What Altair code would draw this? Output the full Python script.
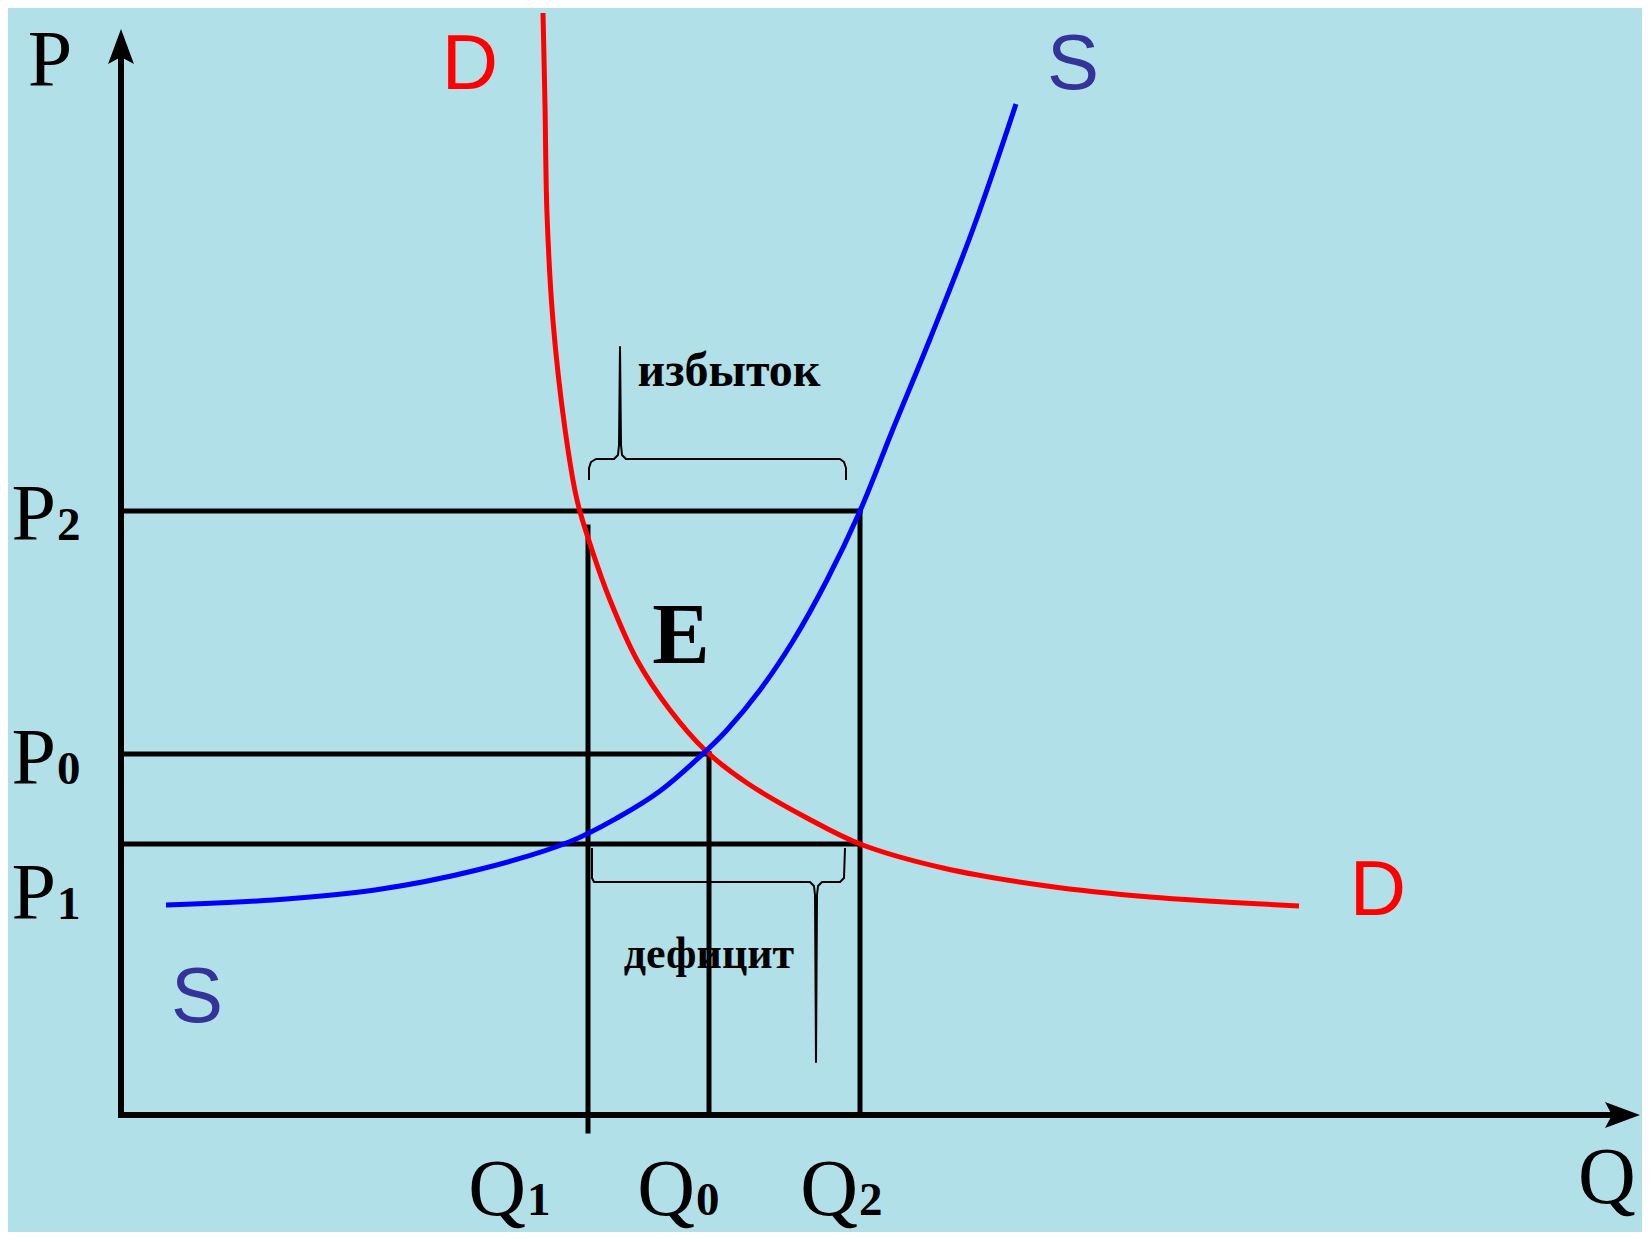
import altair as alt
import pandas as pd

# ---- economic levels (data units) ----
Q1, Q0, Q2 = 4.67, 5.88, 7.39
P2, P0, P1 = 6.04, 3.61, 2.71

# ---- demand curve D ----
demand_q = [4.22, 4.24, 4.26, 4.32, 4.44, 4.56, 4.71, 4.89, 5.16, 5.49, 5.85, 6.26, 6.86, 7.39, 8.22, 9.26, 10.29, 11.78]
demand_p = [11.02, 10.10, 9.01, 7.94, 6.86, 6.15, 5.65, 5.15, 4.55, 4.05, 3.64, 3.32, 2.97, 2.71, 2.47, 2.29, 2.18, 2.09]

# ---- supply curve S ----
supply_q = [0.45, 1.52, 2.54, 3.56, 4.48, 4.96, 5.39, 5.85, 6.06, 6.39, 6.72, 7.06, 7.39, 7.72, 8.09, 8.52, 8.95]
supply_p = [2.10, 2.15, 2.25, 2.45, 2.73, 2.97, 3.24, 3.64, 3.85, 4.25, 4.74, 5.35, 6.04, 6.86, 7.76, 8.86, 10.11]

# ---- guide segments ----
seg_x = [0, 0, 0, Q1, Q0, Q2]
seg_x2 = [Q2, Q0, Q2, Q1, Q0, Q2]
seg_y = [P2, P0, P1, -0.16, 0, 0]
seg_y2 = [P2, P0, P1, 5.88, P0, P2]

# ---- axes ----
axis_x = [0, 0]
axis_x2 = [15.0, 0]
axis_y = [0, 0]
axis_y2 = [0, 10.6]
arrow_up_q, arrow_up_p = [0], [10.86]
arrow_right_q, arrow_right_p = [15.19], [0]

# ---- braces ----
top_brace_q = [4.68, 4.68, 4.70, 4.75, 4.93, 4.97, 4.98, 4.99, 5.00, 5.01, 5.05, 7.19, 7.23, 7.25, 7.25]
top_brace_p = [6.35, 6.47, 6.53, 6.56, 6.56, 6.60, 6.70, 7.68, 6.70, 6.60, 6.56, 6.56, 6.53, 6.47, 6.35]
bot_brace_q = [4.71, 4.71, 4.73, 6.89, 6.93, 6.94, 6.95, 6.96, 6.97, 7.01, 7.19, 7.23, 7.24]
bot_brace_p = [2.67, 2.37, 2.33, 2.33, 2.29, 2.20, 0.53, 2.20, 2.29, 2.33, 2.33, 2.37, 2.67]

# ---- labels ----
main_letters = ["P", "P", "P", "P", "Q", "Q", "Q", "Q"]
main_q = [-0.71, -0.65, -0.65, -0.65, 4.05, 5.74, 7.37, 14.86]
main_p = [10.29, 5.75, 3.31, 1.96, -1.00, -1.00, -1.00, -0.88]
main_align = ["center", "right", "right", "right", "right", "right", "right", "center"]

sub_text = ["2", "0", "1", "1", "0", "2"]
sub_q = [-0.64, -0.64, -0.64, 4.06, 5.75, 7.38]
sub_p = [5.75, 3.31, 1.96, -1.00, -1.00, -1.00]

curve_label_text = ["D", "S", "D", "S"]
curve_label_q = [3.49, 9.52, 12.57, 0.76]
curve_label_p = [10.26, 10.26, 2.00, 0.93]
curve_label_color = ["#ff0000", "#333399", "#ff0000", "#333399"]

word_text = ["избыток", "дефицит"]
word_q = [6.08, 5.88]
word_p = [7.29, 1.47]
word_size = [48, 44]

e_text, e_q, e_p = ["E"], [5.60], [4.52]

# ---- scales ----
xs = alt.Scale(domain=[-1.13, 15.21], nice=False, zero=False)
ys = alt.Scale(domain=[-1.17, 11.07], nice=False, zero=False)
X = lambda f: alt.X(f, type="quantitative", scale=xs, axis=None)
Y = lambda f: alt.Y(f, type="quantitative", scale=ys, axis=None)

seg_df = pd.DataFrame({"x": seg_x, "x2": seg_x2, "y": seg_y, "y2": seg_y2})
axis_df = pd.DataFrame({"x": axis_x, "x2": axis_x2, "y": axis_y, "y2": axis_y2})

guides = alt.Chart(seg_df).mark_rule(color="black", strokeWidth=5, strokeCap="square").encode(
    x=X("x"), x2="x2", y=Y("y"), y2="y2")
axes = alt.Chart(axis_df).mark_rule(color="black", strokeWidth=6, strokeCap="square").encode(
    x=X("x"), x2="x2", y=Y("y"), y2="y2")

up_path = "M0,0L0.74,2L0,1.6L-0.74,2Z"
right_path = "M0,0L-2,0.74L-1.6,0L-2,-0.74Z"
arrow_up = alt.Chart(pd.DataFrame({"q": arrow_up_q, "p": arrow_up_p})).mark_point(
    shape=up_path, size=1225, filled=True, color="black", opacity=1, strokeWidth=0).encode(x=X("q"), y=Y("p"))
arrow_right = alt.Chart(pd.DataFrame({"q": arrow_right_q, "p": arrow_right_p})).mark_point(
    shape=right_path, size=1225, filled=True, color="black", opacity=1, strokeWidth=0).encode(x=X("q"), y=Y("p"))


def curve(qs, ps, color, width):
    df = pd.DataFrame({"q": qs, "p": ps, "i": list(range(len(qs)))})
    return alt.Chart(df).mark_line(color=color, strokeWidth=width, interpolate="catmull-rom").encode(
        x=X("q"), y=Y("p"), order="i:Q")


def brace(qs, ps):
    df = pd.DataFrame({"q": qs, "p": ps, "i": list(range(len(qs)))})
    return alt.Chart(df).mark_line(color="black", strokeWidth=2, interpolate="linear",
                                   strokeJoin="round").encode(x=X("q"), y=Y("p"), order="i:Q")


demand = curve(demand_q, demand_p, "#ff0000", 5)
supply = curve(supply_q, supply_p, "#0000ff", 5)

main_df = pd.DataFrame({"t": main_letters, "q": main_q, "p": main_p, "a": main_align})
main_center = alt.Chart(main_df[main_df.a == "center"]).mark_text(
    font="Liberation Serif", fontSize=80, align="center", baseline="alphabetic", color="black").encode(
    x=X("q"), y=Y("p"), text="t:N")
main_right = alt.Chart(main_df[main_df.a == "right"]).mark_text(
    font="Liberation Serif", fontSize=80, align="right", baseline="alphabetic", color="black").encode(
    x=X("q"), y=Y("p"), text="t:N")
subs = alt.Chart(pd.DataFrame({"t": sub_text, "q": sub_q, "p": sub_p})).mark_text(
    font="Liberation Serif", fontSize=47, fontWeight="bold", align="left", baseline="alphabetic",
    color="black").encode(x=X("q"), y=Y("p"), text="t:N")

curve_labels = alt.Chart(pd.DataFrame({"t": curve_label_text, "q": curve_label_q, "p": curve_label_p,
                                       "c": curve_label_color})).mark_text(
    font="Liberation Sans", fontSize=78, align="center", baseline="alphabetic").encode(
    x=X("q"), y=Y("p"), text="t:N", color=alt.Color("c:N", scale=None))

words = alt.Chart(pd.DataFrame({"t": word_text, "q": word_q, "p": word_p, "s": word_size})).mark_text(
    font="Liberation Serif", fontWeight="bold", align="center", baseline="alphabetic", color="black").encode(
    x=X("q"), y=Y("p"), text="t:N", size=alt.Size("s:Q", scale=None, legend=None))

e_label = alt.Chart(pd.DataFrame({"t": e_text, "q": e_q, "p": e_p})).mark_text(
    font="Liberation Serif", fontSize=86, fontWeight="bold", align="center", baseline="alphabetic",
    color="black").encode(x=X("q"), y=Y("p"), text="t:N")

chart = alt.layer(
    guides, axes, arrow_up, arrow_right, demand, supply,
    brace(top_brace_q, top_brace_p), brace(bot_brace_q, bot_brace_p),
    main_center, main_right, subs, curve_labels, words, e_label,
).properties(
    width=1634, height=1224, padding=0, autosize=alt.AutoSizeParams(type="none"),
    background="#b2e0e8",
).configure_view(stroke=None)

chart.save("out.html", embed_options={"renderer": "svg", "actions": False})
